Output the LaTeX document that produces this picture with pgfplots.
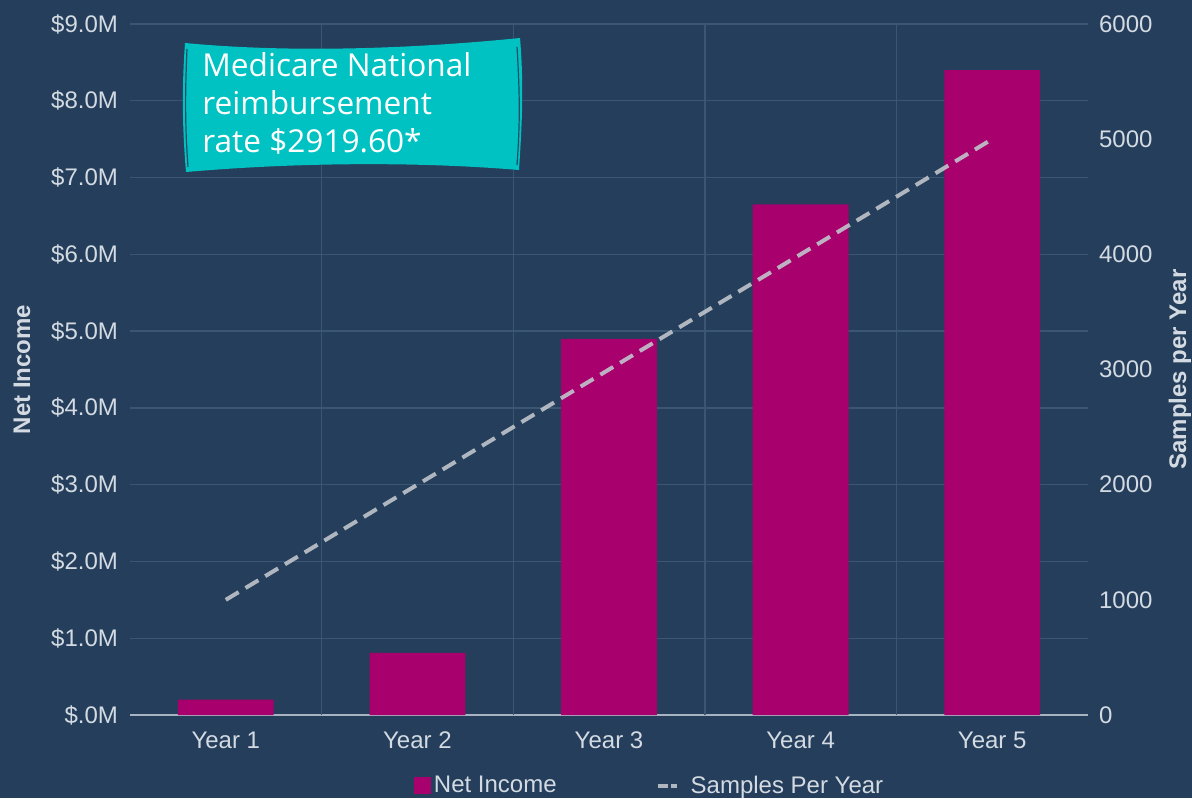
\documentclass[border=0pt]{standalone}
\usepackage{fontspec}
\setmainfont{Liberation Sans}
\newfontfamily\boxfont{Open Sans}
\usepackage{pgfplots}
\pgfplotsset{compat=1.18}
\definecolor{bg}{HTML}{243E5B}
\definecolor{gridc}{HTML}{3A5673}
\definecolor{txt}{HTML}{D3DAE2}
\definecolor{barc}{HTML}{A8006C}
\definecolor{linec}{HTML}{C0C4CC}
\definecolor{boxc}{HTML}{00C2C2}
\definecolor{boxedge}{HTML}{1B4E66}

\begin{document}
\begin{tikzpicture}
\fill[bg] (-65pt,-41.5pt) rectangle (531pt,357.5pt);
\path[use as bounding box] (-65pt,-41.5pt) rectangle (531pt,357.5pt);

% bars, left axis
\begin{axis}[
    at={(0pt,0pt)}, anchor=south west,
    scale only axis, width=479pt, height=345.5pt,
    xmin=-0.5, xmax=4.5, ymin=0, ymax=9,
    axis x line*=bottom, axis y line*=left,
    x axis line style={draw=txt!75!bg, line width=1pt},
    y axis line style={draw=none},
    major tick length=0pt,
    xtick={0,1,2,3,4},
    xticklabels={Year 1,Year 2,Year 3,Year 4,Year 5},
    extra x ticks={0.5,1.5,2.5,3.5},
    extra x tick labels={},
    extra x tick style={grid=major},
    ytick={0,1,...,9},
    yticklabels={\$.0M,\$1.0M,\$2.0M,\$3.0M,\$4.0M,\$5.0M,\$6.0M,\$7.0M,\$8.0M,\$9.0M},
    ymajorgrids=true,
    grid style={gridc, line width=0.7pt},
    tick label style={font=\fontsize{12}{14}\selectfont, text=txt},
    yticklabel style={xshift=-2.5pt},
    xticklabel style={yshift=-5pt},
    ylabel={Net Income},
    ylabel style={font=\bfseries\fontsize{12}{14}\selectfont, text=txt,
        at={(axis description cs:-0.1127,0.5)}, anchor=center},
]
\addplot[ybar, bar width=0.5, fill=barc, draw=none]
    coordinates {(0,0.2)(1,0.81)(2,4.9)(3,6.65)(4,8.4)};
\end{axis}

% line, right axis
\begin{axis}[
    at={(0pt,0pt)}, anchor=south west,
    scale only axis, width=479pt, height=345.5pt,
    xmin=-0.5, xmax=4.5, ymin=0, ymax=6000,
    hide x axis,
    axis y line*=right,
    y axis line style={draw=none},
    major tick length=0pt,
    ytick={0,1000,2000,3000,4000,5000,6000},
    yticklabels={0,1000,2000,3000,4000,5000,6000},
    tick label style={font=\fontsize{12}{14}\selectfont, text=txt},
    yticklabel style={xshift=2pt},
    ylabel={Samples per Year},
    ylabel style={font=\bfseries\fontsize{12}{14}\selectfont, text=txt,
        at={(axis description cs:1.096,0.5)}, anchor=center},
    legend columns=2,
    legend style={at={(axis description cs:0.543,-0.1025)}, anchor=center,
        draw=none, fill=none, text=txt, font=\fontsize{12}{14}\selectfont,
        nodes={inner sep=1.5pt},
        /tikz/every even column/.append style={column sep=48pt}},
]
\addlegendimage{legend image code/.code={\fill[barc] (0pt,-4pt) rectangle (8pt,4pt);}}
\addlegendentry{Net Income}
\addplot[linec, opacity=0.9, line width=2pt, dash pattern=on 7.5pt off 4pt,
    legend image code/.code={\draw[linec, line width=2pt,
        dash pattern=on 5pt off 1.5pt on 3pt off 5pt] (0pt,0pt) -- (14pt,0pt);}]
    coordinates {(0,1000)(1,2000)(2,3000)(3,4000)(4,5000)};
\addlegendentry{Samples Per Year}
\end{axis}

% annotation box
\begin{scope}[x=1pt,y=1pt]
\fill[boxc] (27.5,336) .. controls (80,331) and (140,333) .. (195,338.5)
    .. controls (197,315) and (196,295) .. (194.5,272.5)
    .. controls (140,277) and (80,276) .. (28,271.5)
    .. controls (26,295) and (26,315) .. (27.5,336) -- cycle;
\draw[boxedge, line width=0.6pt] (28.5,333) .. controls (27.5,310) and (27.5,295) .. (29,274);
\draw[boxedge, line width=0.6pt] (193.5,334) .. controls (195,310) and (195,295) .. (193.5,275);
\node[anchor=base west, inner sep=0pt, text=white, font=\boxfont\fontsize{15.8}{19}\selectfont]
    at (36,319.2) {Medicare National};
\node[anchor=base west, inner sep=0pt, text=white, font=\boxfont\fontsize{15.8}{19}\selectfont]
    at (36,300) {reimbursement};
\node[anchor=base west, inner sep=0pt, text=white, font=\boxfont\fontsize{15.8}{19}\selectfont]
    at (36,281) {rate \$2919.60*};
\end{scope}
\end{tikzpicture}
\end{document}
